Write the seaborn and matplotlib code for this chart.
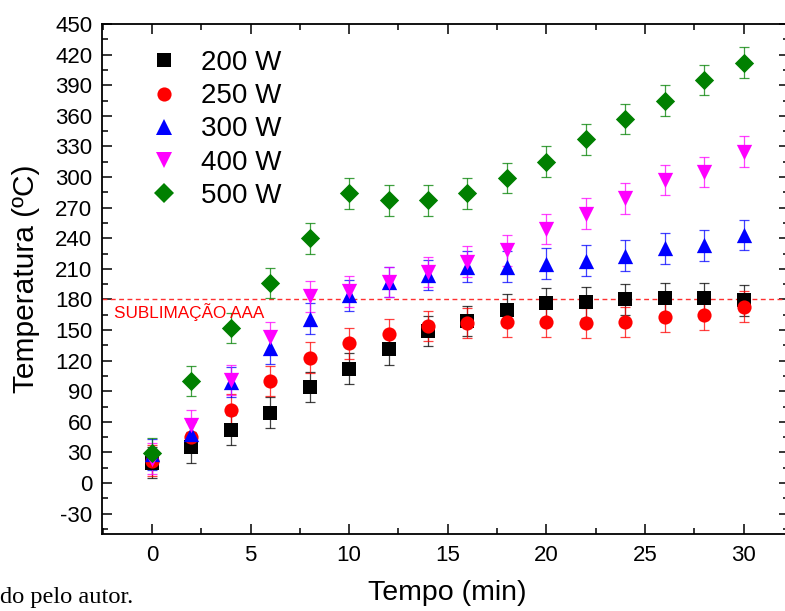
import matplotlib
matplotlib.use("Agg")
import matplotlib.pyplot as plt
from matplotlib.lines import Line2D
import seaborn as sns
import pandas as pd
from matplotlib.ticker import MultipleLocator

# ---- data ----
tempo = [0, 2, 4, 6, 8, 10, 12, 14, 16, 18, 20, 22, 24, 26, 28, 30]
t200 = [20, 35, 52, 69, 94, 112, 131, 149, 159, 170, 176, 177, 180, 181, 181, 179]
t250 = [22, 45, 72, 100, 123, 137, 146, 154, 157, 158, 158, 157, 158, 163, 165, 173]
t300 = [28, 48, 99, 132, 161, 184, 197, 204, 212, 212, 215, 218, 223, 230, 233, 243]
t400 = [24, 57, 101, 143, 183, 188, 197, 207, 217, 228, 249, 264, 279, 297, 305, 325]
t500 = [29, 100, 152, 196, 240, 284, 277, 277, 284, 299, 315, 337, 357, 375, 395, 412]
erro = [15, 15, 15, 15, 15, 15, 15, 15, 15, 15, 15, 15, 15, 15, 15, 15]
labels = ["200 W", "250 W", "300 W", "400 W", "500 W"]
colors = ["#000000", "#FF0000", "#0000FF", "#FF00FF", "#008000"]
markers = ["s", "o", "^", "v", "D"]
msize = [9.6, 10.2, 11.0, 11.0, 9.8]
sublim_y = 180
sublim_label = "SUBLIMAÇÃO AAA"

series = [t200, t250, t300, t400, t500]
frames = []
for lab, vals in zip(labels, series):
    frames.append(pd.DataFrame({"Tempo": tempo, "Temp": vals, "err": erro, "Potencia": lab}))
df = pd.concat(frames, ignore_index=True)

sns.set_theme(style="white")
plt.rcParams["font.family"] = ["Liberation Sans", "DejaVu Sans"]
plt.rcParams["axes.unicode_minus"] = False
plt.rcParams["text.color"] = "black"
plt.rcParams["axes.labelcolor"] = "black"
plt.rcParams["xtick.color"] = "black"
plt.rcParams["ytick.color"] = "black"

fig = plt.figure(figsize=(7.85, 6.11), dpi=100)
ax = fig.add_axes([102 / 785, 77 / 611, 687 / 785, 510 / 611])

for lab, col, mk, ms in zip(labels, colors, markers, msize):
    d = df[df["Potencia"] == lab]
    ax.errorbar(d["Tempo"], d["Temp"], yerr=d["err"], fmt="none", ecolor=col,
                elinewidth=0.9, capsize=3.8, capthick=0.9, alpha=0.75, zorder=2)
    sns.scatterplot(data=d, x="Tempo", y="Temp", ax=ax, color=col, marker=mk,
                    s=ms ** 2, edgecolor=col, linewidth=0, legend=False, zorder=3)

ax.axhline(sublim_y, color="#FF3030", lw=1.0, ls=(0, (3.5, 2.5)), zorder=1)
ax.text(-1.93, 161.5, sublim_label, color="#FF0000", fontsize=12.3, va="baseline", ha="left")

ax.set_xlim(-2.53, 32.3)
ax.set_ylim(-50, 450)
ax.xaxis.set_major_locator(MultipleLocator(5))
ax.xaxis.set_minor_locator(MultipleLocator(2.5))
ax.yaxis.set_minor_locator(MultipleLocator(15))
ax.set_yticks(range(-30, 451, 30))
ax.tick_params(which="both", direction="in", top=True, right=True, bottom=True, left=True,
               width=1.1, color="black", labelsize=16, labelcolor="black")
ax.tick_params(which="major", length=7)
ax.tick_params(which="minor", length=4)
ax.tick_params(axis="x", which="major", pad=8)
ax.tick_params(axis="y", which="major", pad=7)
for sp in ax.spines.values():
    sp.set_color("black")
    sp.set_linewidth(1.3)

ax.set_xlabel("Tempo (min)", fontsize=20.5)
ax.set_ylabel("Temperatura (ºC)", fontsize=21.5)
ax.xaxis.set_label_coords((447 - 102) / 687, (534 - 580) / 510)
ax.yaxis.set_label_coords((40 - 102) / 687, 0.5)

handles = [Line2D([], [], ls="none", marker=mk, color=col, markersize=ms, markeredgewidth=0)
           for col, mk, ms in zip(colors, markers, msize)]
ax.legend(handles, labels, loc="upper left", bbox_to_anchor=((150 - 102) / 687, (534 - 50) / 510),
          frameon=False, fontsize=20, handlelength=1.0, handletextpad=0.85,
          labelspacing=0.26, borderpad=0, borderaxespad=0)

fig.text(0.0, 8 / 611, "do pelo autor.", fontsize=17.6, family=["Liberation Serif", "DejaVu Serif"],
         ha="left", va="baseline", color="black")

fig.savefig("out.png", dpi=100)
